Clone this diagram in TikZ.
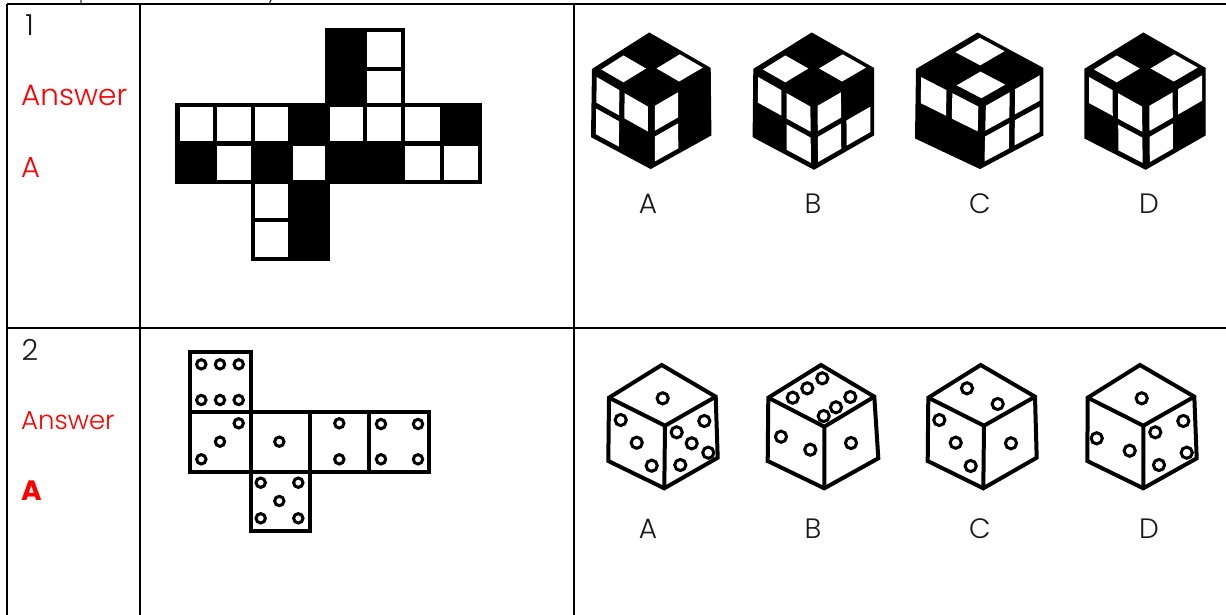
\documentclass[tikz,border=0pt]{standalone}
\usepackage{fontspec}
\setmainfont{Poppins Light}
\newfontfamily\boldf{Poppins}[BoldFont={Poppins Bold}]
\usetikzlibrary{calc}
\tikzset{
 tableline/.style={line width=2.6pt,black},
 netcell/.style={line width=4.2pt,draw=black,line join=miter},
 dienet/.style={line width=4pt,draw=black,fill=white},
 dieedge/.style={line width=4pt,draw=black,line join=miter},
 pip/.style={line width=3pt,draw=black,fill=white},
 optlabel/.style={font=\fontsize{28}{28}\selectfont,text=black!90,inner sep=0pt},
 rownum/.style={font=\fontsize{29}{29}\selectfont,text=black!90,inner sep=0pt},
 answer/.style={text=red,inner sep=0pt,anchor=base west}
}
% cell of a bilinear face: corners A B (top) D E (bottom)
\newcommand{\bip}[6]{($($(#1)!#5!(#2)$)!#6!($(#3)!#5!(#4)$)$)}
\newcommand{\wcell}[8]{\fill[white] \bip{#1}{#2}{#3}{#4}{#5}{#7} -- \bip{#1}{#2}{#3}{#4}{#6}{#7} -- \bip{#1}{#2}{#3}{#4}{#6}{#8} -- \bip{#1}{#2}{#3}{#4}{#5}{#8} -- cycle;}
% faces with two columns / rows
\newcommand{\fcTL}[4]{\wcell{#1}{#2}{#3}{#4}{.07}{.46}{.08}{.46}}
\newcommand{\fcTR}[4]{\wcell{#1}{#2}{#3}{#4}{.55}{.95}{.08}{.46}}
\newcommand{\fcBL}[4]{\wcell{#1}{#2}{#3}{#4}{.07}{.46}{.55}{.93}}
\newcommand{\fcBR}[4]{\wcell{#1}{#2}{#3}{#4}{.55}{.95}{.55}{.93}}
\newcommand{\setcube}[7]{%
 \coordinate (T) at (#1); \coordinate (L) at (#2); \coordinate (R) at (#3);
 \coordinate (C) at (#4); \coordinate (B) at (#5); \coordinate (BL) at (#6); \coordinate (BR) at (#7);
 \filldraw[line width=1.4pt,line join=miter] (T)--(R)--(BR)--(B)--(BL)--(L)--cycle;}
\newcommand{\setdie}[7]{%
 \coordinate (T) at (#1); \coordinate (L) at (#2); \coordinate (R) at (#3);
 \coordinate (C) at (#4); \coordinate (B) at (#5); \coordinate (BL) at (#6); \coordinate (BR) at (#7);
 \draw[dieedge] (T)--(R)--(BR)--(B)--(BL)--(L)--cycle;
 \draw[dieedge] (L)--(C)--(R) (C)--(B);}
\newcommand{\pips}[1]{\foreach \px/\py in {#1} {\draw[pip] (\px,\py) circle (4.7);}}
\newcommand{\diepips}[1]{\foreach \px/\py in {#1} {\draw[pip] (\px,\py) circle (5.6);}}
\begin{document}
\begin{tikzpicture}[x=1pt,y=-1pt]
\useasboundingbox (0,0) rectangle (1226,615);
\fill[white] (0,0) rectangle (1226,615);
% clipped descenders of the line of text above the table
\coordinate (d1a) at (81,0); \coordinate (d1b) at (81,3);
\coordinate (d2a) at (271,0); \coordinate (d2b) at (269.5,3);
\draw[line width=1.2pt,black!80] (d1a) -- (d1b) (d2a) -- (d2b);
% table
\draw[tableline] (7,4) -- (1226,4) (7,328) -- (1226,328);
\draw[tableline] (7,4) -- (7,615) (140,4) -- (140,615) (574,4) -- (574,615);
% row labels
\node[rownum] (n1) at (29.5,25) {1};
\node[answer,font=\fontsize{29.5}{29.5}\selectfont] (a1) at (21,106) {Answer};
\node[answer,font=\fontsize{29}{29}\selectfont] (l1) at (21,178) {A};
\node[rownum] (n2) at (30,350) {2};
\node[answer,font=\fontsize{26}{26}\selectfont] (a2) at (21,429) {Answer};
\node[answer,font=\fontsize{28}{28}\boldf\bfseries] (l2) at (21,500) {A};
% option labels
\foreach \nm/\x/\t in {oa/648/A,ob/813/B,oc/980/C,od/1149/D} {
 \node[optlabel] (\nm1) at (\x,204) {\t};
 \node[optlabel] (\nm2) at (\x,529) {\t};
}
% net 1
\def\cxs{{177.5,215,253,290.5,327.5,365,403.3,441.7,479.7}}
\def\rys{{30,68.7,105,143.5,182,220,259}}
\foreach \c/\r/\col in {4/0/black,5/0/white,4/1/black,5/1/white,
 0/2/white,1/2/white,2/2/white,3/2/black,4/2/white,5/2/white,6/2/white,7/2/black,
 0/3/black,1/3/white,2/3/black,3/3/white,4/3/black,5/3/black,6/3/white,7/3/white,
 2/4/white,3/4/black,2/5/white,3/5/black} {
 \pgfmathsetmacro\xa{\cxs[\c]}\pgfmathsetmacro\xb{\cxs[\c+1]}
 \pgfmathsetmacro\ya{\rys[\r]}\pgfmathsetmacro\yb{\rys[\r+1]}
 \draw[netcell,fill=\col] (\xa,\ya) rectangle (\xb,\yb);
}
% cube A
\setcube{649.3,33.3}{592.7,69.3}{710,68.3}{650.7,103}{650.7,168.3}{591.7,136.7}{710.7,135}
\fcTL{L}{T}{C}{R} \fcBR{L}{T}{C}{R}
\fcTL{L}{C}{BL}{B} \fcTR{L}{C}{BL}{B} \fcBL{L}{C}{BL}{B}
\fcTL{C}{R}{B}{BR} \fcBL{C}{R}{B}{BR}
% cube B
\setcube{811.7,33.3}{754,69.3}{873.3,68.3}{813.3,103}{814,169}{753.3,136.7}{873.3,135}
\fcTL{L}{T}{C}{R} \fcBR{L}{T}{C}{R}
\fcTL{L}{C}{BL}{B} \fcTR{L}{C}{BL}{B} \fcBR{L}{C}{BL}{B}
\fcTL{C}{R}{B}{BR} \fcBL{C}{R}{B}{BR} \fcBR{C}{R}{B}{BR}
% cube C
\setcube{977.7,33.3}{916.7,69.3}{1042.7,68.3}{981.7,103}{980,168.3}{915.7,138}{1042.7,135}
\fcBL{L}{T}{C}{R} \fcTR{L}{T}{C}{R}
\fcTL{L}{C}{BL}{B} \fcTR{L}{C}{BL}{B}
\fcTL{C}{R}{B}{BR} \fcTR{C}{R}{B}{BR} \fcBL{C}{R}{B}{BR} \fcBR{C}{R}{B}{BR}
% cube D
\setcube{1143.3,33.3}{1085,69.3}{1205,68.3}{1145,103}{1145.7,169}{1085,138}{1205,135}
\fcTL{L}{T}{C}{R} \fcBR{L}{T}{C}{R}
\fcTL{L}{C}{BL}{B} \fcTR{L}{C}{BL}{B} \fcBR{L}{C}{BL}{B}
\fcTL{C}{R}{B}{BR} \fcTR{C}{R}{B}{BR} \fcBL{C}{R}{B}{BR}
% net 2
\draw[dienet] (190,352.3) rectangle (250.7,411.7);
\draw[dienet] (190,411.7) rectangle (250.7,471.7);
\draw[dienet] (250.7,411.7) rectangle (310,471.7);
\draw[dienet] (310,411.7) rectangle (369.3,471.7);
\draw[dienet] (369.3,411.7) rectangle (429.3,471.7);
\draw[dienet] (250.7,471.7) rectangle (310,530.7);
\pips{201.3/364.3,220/364.3,238.7/364.3,201.3/400,220/400,238.7/400,
 238.7/423.3,220/441.7,201.3/459.3,279.3/441.7,339.3/423.3,339.3/459.3,
 381/424,418/424,381/459.3,418/459.3,
 260.7/482.7,298.3/482.7,279.3/501,260.7/518.3,298.3/518.3}
% die A
\setdie{661.7,365}{609,397.7}{715.7,396.7}{665,425.7}{664.3,488.3}{608.3,461}{717.7,457.7}
\diepips{662.7/398.3,620.7/420,636.7/442.7,651.7/465.7,676.7/432.3,704.3/421,691.7/443.3,708.3/452.7,680.3/465}
% die B
\setdie{821,365}{768.3,397.7}{874.3,396.7}{824.3,426.7}{824.3,488.3}{767.7,461}{878.3,458.3}
\diepips{792.7/397.7,807.3/388.3,822.3/378.3,823.7/416,836/407.3,850.3/397,781/436.7,810.3/449.7,851/443}
% die C
\setdie{980.7,365}{928.3,397.7}{1035,396.7}{984,425.7}{983.3,488.3}{927.7,461}{1036.7,457.7}
\diepips{967/388.3,997.7/404,939.3/420,955.7/442.7,970.7/466,1011/443.3}
% die D
\setdie{1140,365}{1087.7,397.7}{1194.3,396.7}{1143.3,425.7}{1143.3,488.3}{1087.3,461}{1196.7,458.3}
\diepips{1141.7/398.3,1096.7/438.3,1129.7/450.7,1155.3/432.3,1183.3/421,1186.7/452.7,1159/465}
\end{tikzpicture}
\end{document}
